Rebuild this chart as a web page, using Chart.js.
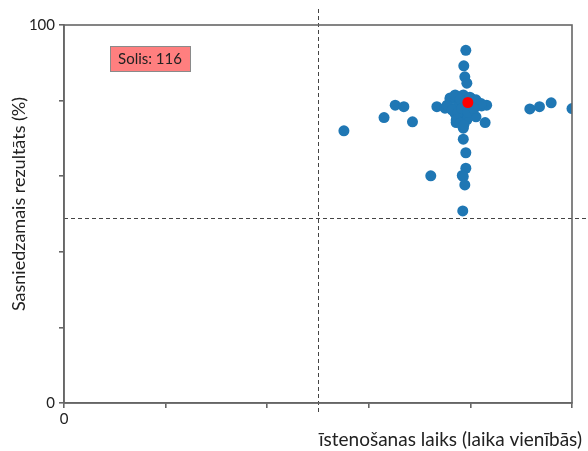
<!DOCTYPE html>
<html>
<head>
<meta charset="utf-8">
<script src="https://cdn.jsdelivr.net/npm/chart.js@4"></script>
<style>
  body { margin: 0; background: #fff; }
</style>
</head>
<body>
<canvas id="stepChart" width="588" height="451"></canvas>
<script>
// all completed steps: time (units) and achieved result (%)
let timeValues = [
    7.91, 7.87, 7.89, 7.93, 6.52, 6.69, 7.34, 6.30, 6.86, 5.51,
    9.17, 9.36, 9.59, 10.0, 7.86, 7.91, 7.22, 7.91, 7.84, 7.86,
    7.89, 7.85, 7.73, 7.86, 7.60, 8.32, 8.22, 8.11, 8.29, 7.72,
    7.86, 7.83, 7.99, 7.76, 7.89, 7.70, 7.93, 8.03, 7.60, 7.50,
    7.60, 7.70, 7.80, 7.99, 8.11, 8.21, 7.54, 7.64, 7.76, 7.83,
    7.95, 8.07, 7.72, 7.80, 7.87
];
let resultValues = [
    93.3, 89.2, 86.3, 84.6, 78.8, 78.4, 78.4, 75.5, 74.4, 72.0,
    77.8, 78.4, 79.4, 77.9, 69.8, 66.2, 60.1, 62.1, 60.2, 59.9,
    57.7, 50.8, 81.0, 81.5, 78.0, 78.8, 78.6, 75.7, 74.2, 74.2,
    72.7, 75.3, 77.5, 78.8, 79.7, 76.6, 74.9, 80.4, 80.4, 78.0,
    80.7, 81.5, 80.4, 80.9, 80.2, 79.2, 78.8, 77.5, 76.9, 77.9,
    76.9, 77.9, 74.9, 74.1, 73.5
];

// current step
let stepNumber = 116;
let currentTime = [7.95];
let currentResult = [79.5];

// axis settings
let xRange = [0, 10];
let yRange = [0, 100];
let xMedian = 5;
let yMedian = 49;
let xTitle = 'īstenošanas laiks (laika vienībās)';
let yTitle = 'Sasniedzamais rezultāts (%)';

let axisColor = '#666666';
let fontFamily = "Lato, 'Open Sans', sans-serif";

let toPoints = (xs, ys) => xs.map((x, i) => ({x: x, y: ys[i]}));

// dashed median lines, plot frame, axis titles and the step badge
let overlayPlugin = {
    id: 'overlay',
    afterDatasetsDraw(chart) {
        let ctx = chart.ctx;
        let area = chart.chartArea;
        let xs = chart.scales.x;
        let ys = chart.scales.y;
        ctx.save();

        ctx.strokeStyle = '#444';
        ctx.lineWidth = 1;
        ctx.setLineDash([4, 3]);
        let mx = Math.round(xs.getPixelForValue(xMedian)) + 0.5;
        let my = Math.round(ys.getPixelForValue(yMedian)) + 0.5;
        ctx.beginPath();
        ctx.moveTo(mx, area.top - 16);
        ctx.lineTo(mx, area.bottom + 12);
        ctx.moveTo(area.left, my);
        ctx.lineTo(chart.width, my);
        ctx.stroke();
        ctx.setLineDash([]);

        ctx.strokeStyle = axisColor;
        ctx.lineWidth = 1.6;
        ctx.strokeRect(area.left, area.top, area.right - area.left, area.bottom - area.top);

        // axis titles
        ctx.fillStyle = '#222';
        ctx.font = '19px ' + fontFamily;
        ctx.textBaseline = 'middle';
        ctx.textAlign = 'right';
        ctx.fillText(xTitle, area.right + 10, 440);
        ctx.save();
        ctx.translate(19, 204);
        ctx.rotate(-Math.PI / 2);
        ctx.textAlign = 'center';
        ctx.font = '18px ' + fontFamily;
        ctx.fillText(yTitle, 0, 0);
        ctx.restore();

        ctx.fillStyle = '#ff7f7f';
        ctx.strokeStyle = '#8a8a8a';
        ctx.lineWidth = 1;
        ctx.fillRect(110, 46, 80, 25);
        ctx.strokeRect(110.5, 46.5, 80, 25);
        ctx.fillStyle = '#222';
        ctx.font = '15px ' + fontFamily;
        ctx.textAlign = 'center';
        ctx.textBaseline = 'middle';
        ctx.fillText('Solis: ' + stepNumber, 150, 59);
        ctx.restore();
    }
};

let ctx = document.getElementById('stepChart').getContext('2d');

let myChart = new Chart(ctx, {
    type: 'scatter',
    data: {
        datasets: [{
            data: toPoints(currentTime, currentResult),
            backgroundColor: '#ff0000',
            pointRadius: 5.5,
            borderWidth: 0,
            clip: 0
        }, {
            data: toPoints(timeValues, resultValues),
            backgroundColor: '#1f77b4',
            pointRadius: 5.5,
            borderWidth: 0,
            clip: 0
        }]
    },
    options: {
        responsive: false,
        animation: false,
        layout: {
            padding: {top: 25, right: 16, left: 0, bottom: 0}
        },
        plugins: {
            legend: {display: false},
            tooltip: {enabled: false}
        },
        scales: {
            x: {
                min: xRange[0],
                max: xRange[1],
                afterFit: (scale) => { scale.height = 48; },
                border: {display: true, color: axisColor, width: 1.6},
                grid: {drawOnChartArea: false, drawTicks: true, tickLength: 5, color: axisColor, lineWidth: 1.6},
                ticks: {
                    stepSize: 2,
                    padding: 2,
                    color: '#222',
                    font: {family: fontFamily, size: 15},
                    callback: (value) => value === 0 ? '0' : ''
                }
            },
            y: {
                min: yRange[0],
                max: yRange[1],
                afterFit: (scale) => { scale.width = 64; },
                border: {display: true, color: axisColor, width: 1.6},
                grid: {drawOnChartArea: false, drawTicks: true, tickLength: 5, color: axisColor, lineWidth: 1.6},
                ticks: {
                    stepSize: 20,
                    padding: 4,
                    color: '#222',
                    font: {family: fontFamily, size: 15},
                    callback: (value) => (value === 0 || value === 100) ? String(value) : ''
                }
            }
        }
    },
    plugins: [overlayPlugin]
});
</script>
</body>
</html>
